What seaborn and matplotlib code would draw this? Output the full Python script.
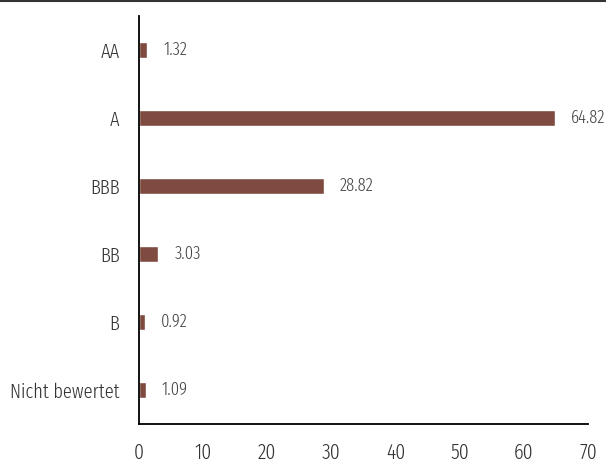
import matplotlib
matplotlib.use("Agg")
import matplotlib.pyplot as plt
import seaborn as sns
import pandas as pd
from matplotlib.lines import Line2D

categories = ["AA", "A", "BBB", "BB", "B", "Nicht bewertet"]
values = [1.32, 64.82, 28.82, 3.03, 0.92, 1.09]
xticks = [0, 10, 20, 30, 40, 50, 60, 70]

sns.set_theme(style="white")
plt.rcParams['font.family'] = ['Fira Sans Extra Condensed', 'DejaVu Sans']

df = pd.DataFrame({"cat": categories, "val": values})

fig = plt.figure(figsize=(6.06, 4.59), dpi=100)
ax = fig.add_axes([139/606, 35/459, 449/606, 408/459])

sns.barplot(data=df, y="cat", x="val", orient="h", color="#7F4A40",
            saturation=1, width=0.24, ax=ax)

for i, v in enumerate(values):
    ax.annotate(f"{v:.2f}", xy=(v, i), xytext=(16, 0), textcoords="offset pixels",
                va="center", ha="left", fontsize=13, fontweight=350, color="#444444")

ax.set_xlim(0, 70)
ax.set_ylim(5.5, -0.5)
ax.set_xticks(xticks)
ax.set_xticklabels([str(t) for t in xticks], fontweight=350, fontsize=15.5)
ax.set_yticks(range(len(categories)))
ax.set_yticklabels(categories, fontweight=350, fontsize=14.5)
ax.set_xlabel("")
ax.set_ylabel("")
ax.tick_params(axis="both", length=0, colors="#333333")
ax.tick_params(axis="x", pad=13)
ax.tick_params(axis="y", pad=14)
sns.despine(ax=ax, top=True, right=True)
for s in ["left", "bottom"]:
    ax.spines[s].set_color("#000000")
    ax.spines[s].set_linewidth(1.3)
ax.grid(False)

fig.add_artist(Line2D([0, 1], [0.998, 0.998], transform=fig.transFigure,
                      color="#333333", linewidth=1.5))

fig.savefig("out.png", dpi=100)
